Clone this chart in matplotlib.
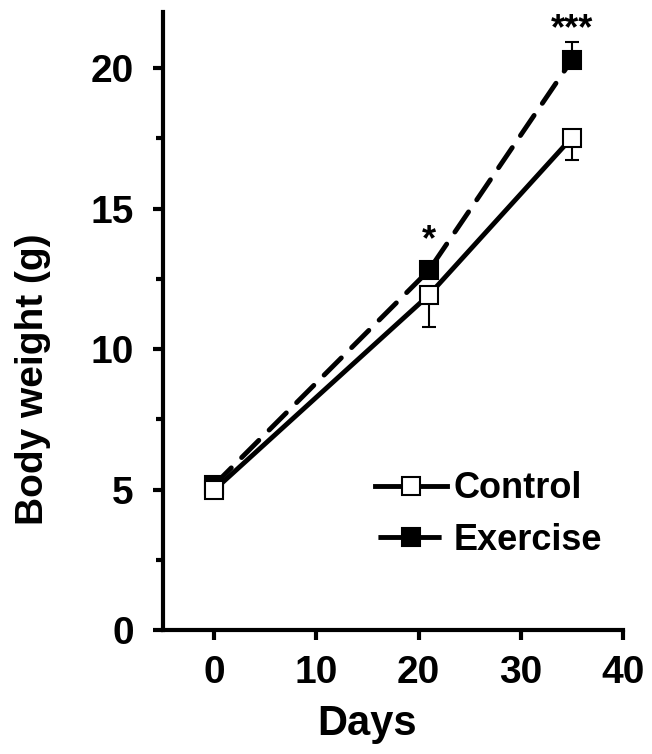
import numpy as np
import matplotlib.pyplot as plt
from matplotlib.ticker import MultipleLocator
from matplotlib.lines import Line2D

# 数据
days = [0, 21, 35]
control_mean = [4.98, 11.92, 17.53]
control_err_low = [0.15, 1.15, 0.8]
exercise_mean = [5.16, 12.8, 20.3]
exercise_err_high = [0.1, 0.25, 0.65]
stars = ["", "*", "***"]

plt.rcParams['font.family'] = ['Liberation Sans', 'DejaVu Sans']
plt.rcParams['font.weight'] = 'bold'

fig = plt.figure(figsize=(6.52, 7.54), dpi=100)
ax = fig.add_axes([0.25, 0.1645, 0.7055, 0.8195])

zeros = [0] * len(days)
dash = (5, 3)

# 运动组（虚线、实心方块）
ax.errorbar(days, exercise_mean, yerr=[zeros, exercise_err_high],
            color='black', lw=3.5, dashes=dash, dash_capstyle='round',
            marker='s', ms=13, mfc='black', mec='black', mew=1.5,
            ecolor='black', elinewidth=1.5, capsize=5, capthick=1.5,
            zorder=3)

# 对照组（实线、空心方块）
ax.errorbar(days, control_mean, yerr=[control_err_low, zeros],
            color='black', lw=3.5, solid_capstyle='round',
            marker='s', ms=13, mfc='white', mec='black', mew=1.5,
            ecolor='black', elinewidth=1.5, capsize=5, capthick=1.5,
            zorder=4)

# 显著性标记
for d, m, s in zip(days, exercise_mean, stars):
    if s:
        ax.text(d, m + 0.45, s, ha='center', va='bottom',
                fontsize=26, fontweight='bold')

ax.set_xlim(-5, 40)
ax.set_ylim(0, 22)
ax.xaxis.set_major_locator(MultipleLocator(10))
ax.yaxis.set_major_locator(MultipleLocator(5))
ax.yaxis.set_minor_locator(MultipleLocator(2.5))

for side in ['top', 'right']:
    ax.spines[side].set_visible(False)
for side in ['left', 'bottom']:
    ax.spines[side].set_linewidth(3)

ax.tick_params(axis='both', which='major', length=7, width=3, direction='out',
               labelsize=28)
ax.tick_params(axis='x', which='major', pad=11)
ax.tick_params(axis='y', which='major', pad=14)
ax.tick_params(axis='y', which='minor', length=5, width=3, direction='out')
for lbl in ax.get_xticklabels() + ax.get_yticklabels():
    lbl.set_fontweight('bold')

ax.set_xlabel('Days', fontsize=30, fontweight='bold')
ax.xaxis.set_label_coords(0.443, -0.12)
ax.set_ylabel('Body weight (g)', fontsize=28, fontweight='bold')
ax.yaxis.set_label_coords(-0.283, 0.405)
ax.yaxis.label.set_va('center')

# 图例（不带误差线）
h_ctrl = Line2D([], [], color='black', lw=3.5, marker='s', ms=13,
                mfc='white', mec='black', mew=1.5)
h_ex = Line2D([], [], color='black', lw=3.5, ls=(7.4, dash), marker='s', ms=13,
              mfc='black', mec='black', mew=1.5)
leg = ax.legend([h_ctrl, h_ex], ['Control', 'Exercise'], loc='center left',
                bbox_to_anchor=(0.46, 0.187), frameon=False,
                fontsize=26, handlelength=2.0, handletextpad=0.19,
                labelspacing=0.45, borderaxespad=0, borderpad=0)
for t in leg.get_texts():
    t.set_fontweight('bold')

plt.savefig('out.png', dpi=100)
plt.close()
